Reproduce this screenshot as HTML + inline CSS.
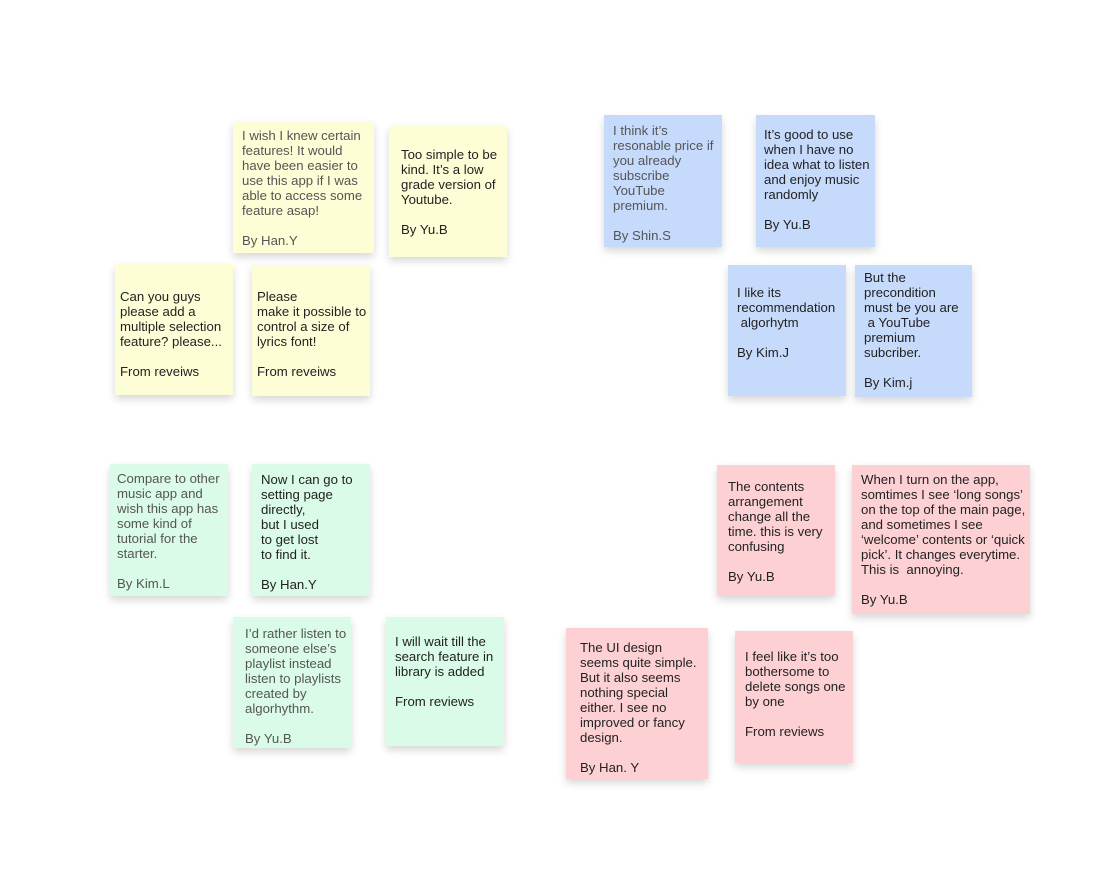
<!DOCTYPE html>
<html><head><meta charset="utf-8"><style>
body{margin:0;width:1104px;height:883px;background:#fff;position:relative;overflow:hidden;font-family:"Liberation Sans",sans-serif;}
.n{position:absolute;box-shadow:0 4px 8px rgba(0,0,0,.16);box-sizing:border-box;}
.t{position:absolute;left:9px;white-space:pre;font-size:13.2px;line-height:15px;color:#222;}
.g{color:#555;}
.y{background:#fdfed6}.b{background:#c6dafb}.gr{background:#d9fbe8}.p{background:#fdd1d4}
</style></head><body>
<div class="n y" style="left:233px;top:122px;width:141px;height:131px"><div class="t g" style="top:6px">I wish I knew certain
features! It would
have been easier to
use this app if I was
able to access some
feature asap!

By Han.Y</div></div>
<div class="n y" style="left:389px;top:126px;width:118px;height:131px"><div class="t" style="top:21px;left:12px">Too simple to be
kind. It’s a low
grade version of
Youtube.

By Yu.B</div></div>
<div class="n y" style="left:115px;top:264px;width:118px;height:131px"><div class="t" style="top:25px;left:5px">Can you guys
please add a
multiple selection
feature? please...

From reveiws</div></div>
<div class="n y" style="left:252px;top:265px;width:118px;height:131px"><div class="t" style="top:24px;left:5px">Please
make it possible to
control a size of
lyrics font!

From reveiws</div></div>

<div class="n b" style="left:604px;top:115px;width:118px;height:132px"><div class="t g" style="top:8px">I think it’s
resonable price if
you already
subscribe
YouTube
premium.

By Shin.S</div></div>
<div class="n b" style="left:756px;top:115px;width:119px;height:132px"><div class="t" style="top:12px;left:8px">It’s good to use
when I have no
idea what to listen
and enjoy music
randomly

By Yu.B</div></div>
<div class="n b" style="left:728px;top:265px;width:118px;height:131px"><div class="t" style="top:20px">I like its
recommendation
 algorhytm

By Kim.J</div></div>
<div class="n b" style="left:855px;top:265px;width:117px;height:132px"><div class="t" style="top:5px">But the
precondition
must be you are
 a YouTube
premium
subcriber.

By Kim.j</div></div>

<div class="n gr" style="left:110px;top:464px;width:118px;height:132px"><div class="t g" style="top:7px;left:7px">Compare to other
music app and
wish this app has
some kind of
tutorial for the
starter.

By Kim.L</div></div>
<div class="n gr" style="left:252px;top:464px;width:118px;height:132px"><div class="t" style="top:8px">Now I can go to
setting page
directly,
but I used
to get lost
to find it.

By Han.Y</div></div>
<div class="n gr" style="left:233px;top:617px;width:118px;height:131px"><div class="t g" style="top:9px;left:12px">I’d rather listen to
someone else’s
playlist instead
listen to playlists
created by
algorhythm.

By Yu.B</div></div>
<div class="n gr" style="left:386px;top:617px;width:118px;height:129px"><div class="t" style="top:17px">I will wait till the
search feature in
library is added

From reviews</div></div>

<div class="n p" style="left:717px;top:465px;width:118px;height:131px"><div class="t" style="top:14px;left:11px">The contents
arrangement
change all the
time. this is very
confusing

By Yu.B</div></div>
<div class="n p" style="left:852px;top:465px;width:178px;height:149px"><div class="t" style="top:7px">When I turn on the app,
somtimes I see ‘long songs’
on the top of the main page,
and sometimes I see
‘welcome’ contents or ‘quick
pick’. It changes everytime.
This is  annoying.

By Yu.B</div></div>
<div class="n p" style="left:566px;top:628px;width:142px;height:151px"><div class="t" style="top:12px;left:14px">The UI design
seems quite simple.
But it also seems
nothing special
either. I see no
improved or fancy
design.

By Han. Y</div></div>
<div class="n p" style="left:735px;top:631px;width:118px;height:132px"><div class="t" style="top:18px;left:10px">I feel like it’s too
bothersome to
delete songs one
by one

From reviews</div></div>
</body></html>
